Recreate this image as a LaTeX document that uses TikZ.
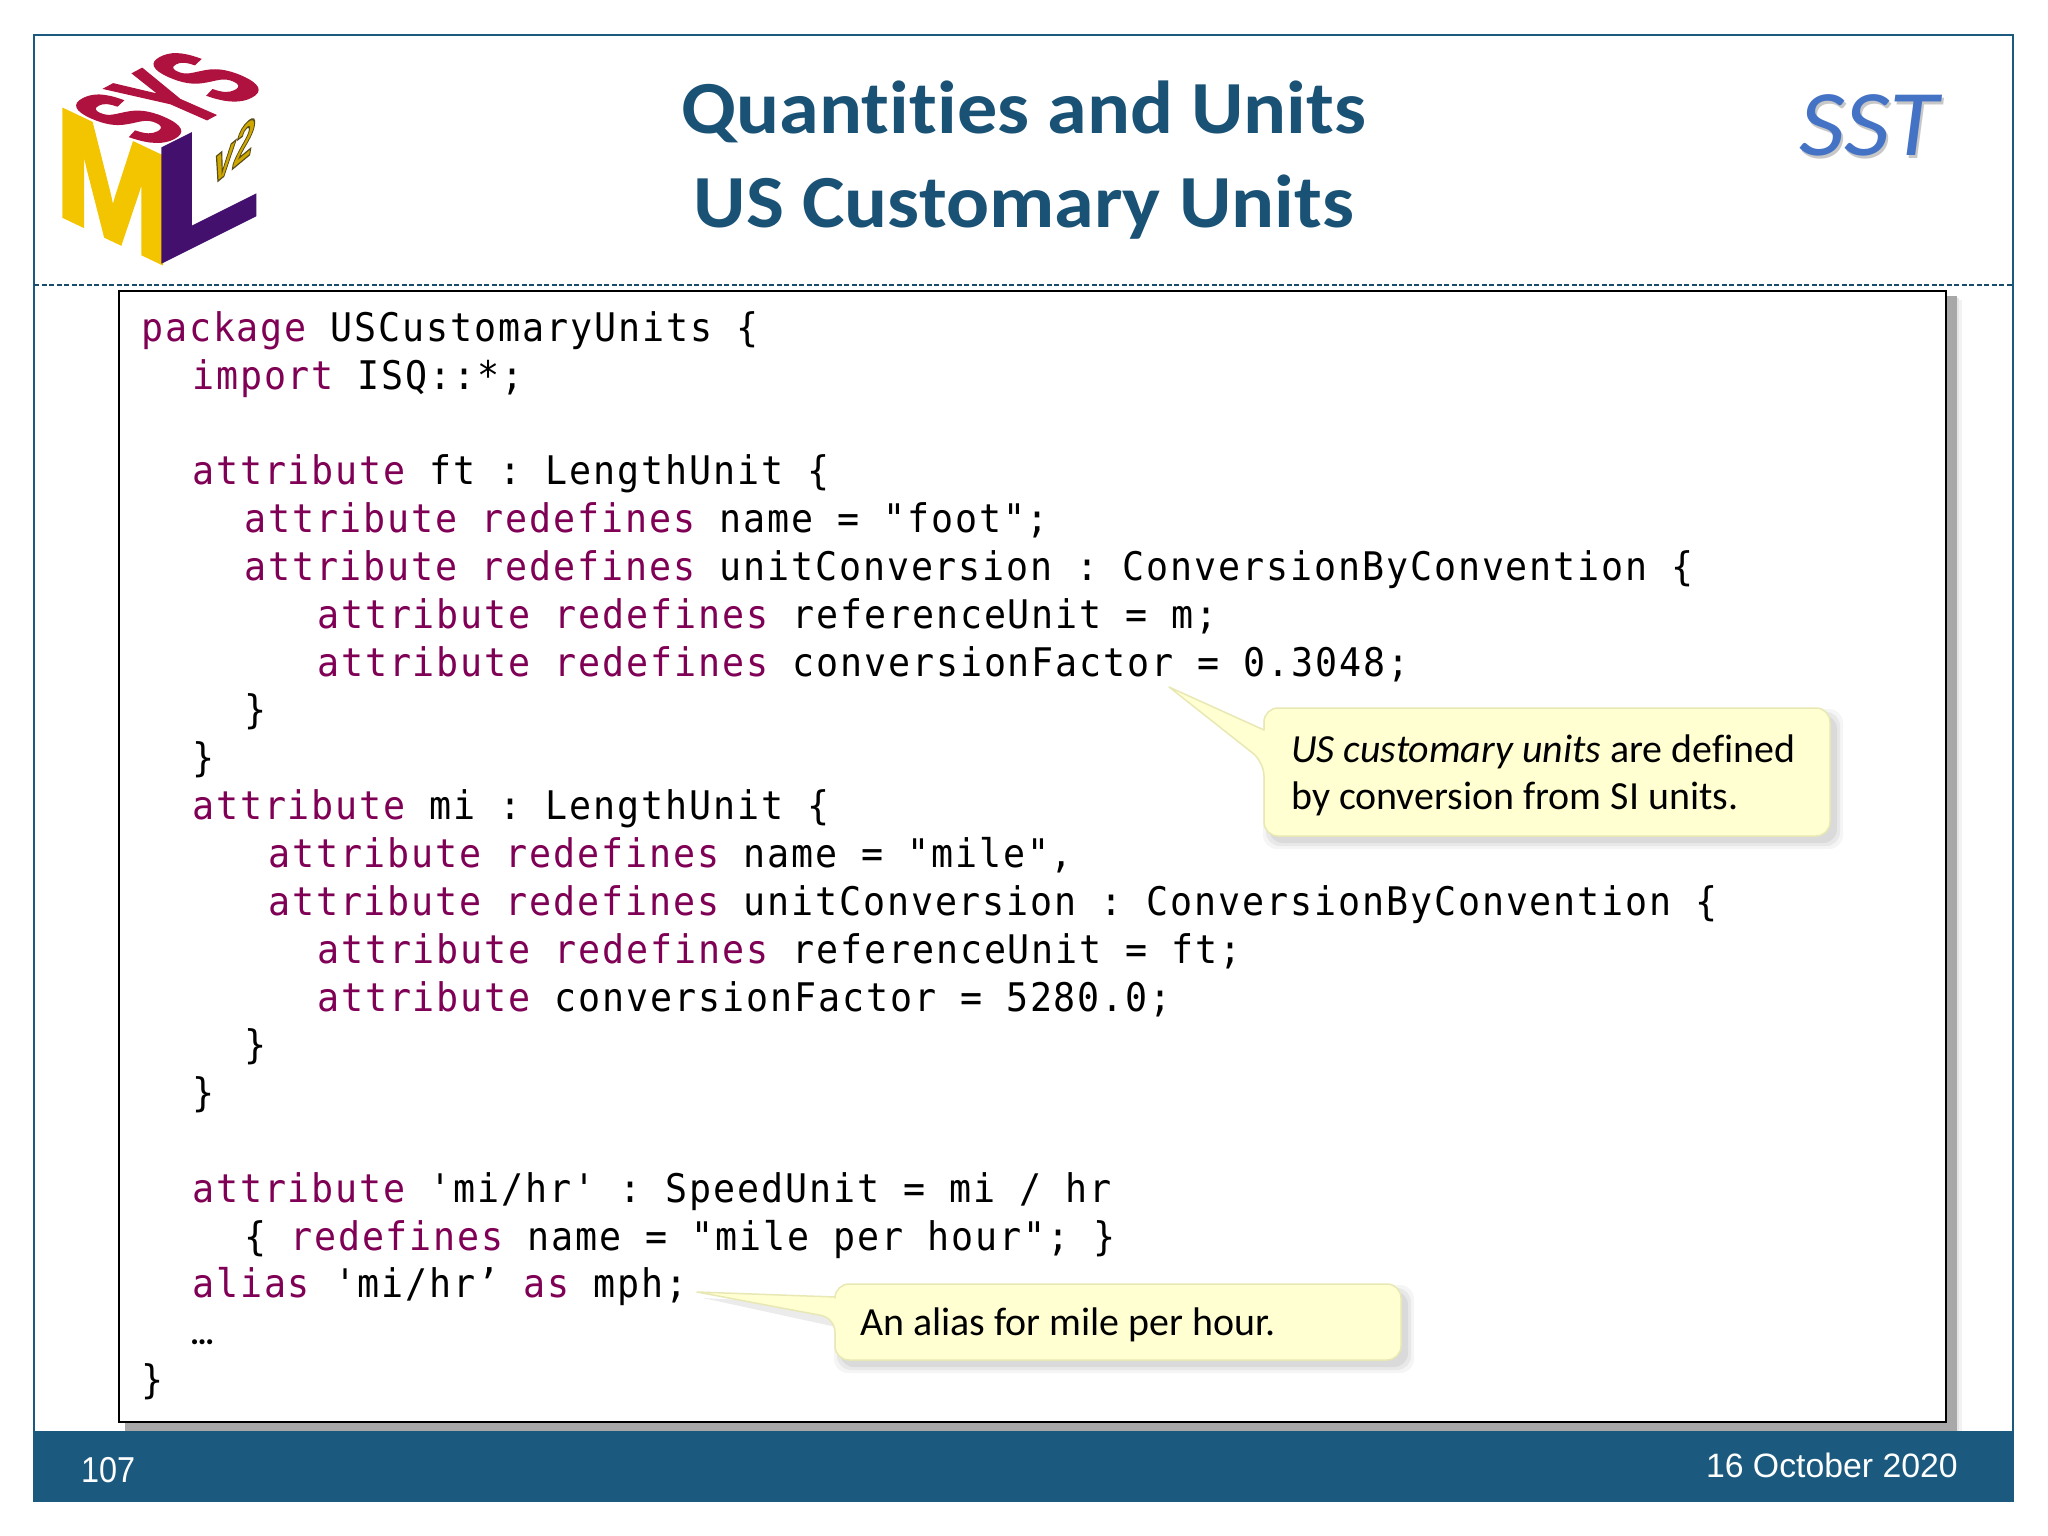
\documentclass[tikz,border=0pt]{standalone}
\usepackage{fontspec}
\usetikzlibrary{calc}
\setmainfont[Ligatures=NoCommon]{Carlito}
\newfontfamily\codefont[FakeStretch=0.93,LetterSpace=4.8]{DejaVu Sans Mono}
\newfontfamily\arialfont{Liberation Sans}
\newfontfamily\pgfont[FakeStretch=0.9]{Liberation Sans}
\newfontfamily\titlefont[FakeStretch=1.07,Ligatures=NoCommon]{Carlito}
\newfontfamily\logofont[FakeBold=3]{Liberation Sans}
\definecolor{navy}{HTML}{1B5A7E}
\definecolor{titleblue}{HTML}{1A5276}
\definecolor{sstblue}{HTML}{4472C4}
\definecolor{kwcol}{HTML}{7F0055}
\definecolor{notefill}{HTML}{FFFFD2}
\definecolor{noteline}{HTML}{E8E8B4}
\definecolor{logored}{HTML}{B0123F}
\definecolor{logoyellow}{HTML}{F2C500}
\definecolor{logopurple}{HTML}{43106E}
\newcommand{\kw}[1]{\textcolor{kwcol}{#1}}
\tikzset{
  x=1pt,y=-1pt,
  codeline/.style={anchor=base west,inner sep=0pt,font=\frenchspacing\codefont\fontsize{39.4}{47}\selectfont,text=black},
  notetext/.style={anchor=base west,inner sep=0pt,font=\fontsize{39.9}{47}\selectfont,text=black},
  titleline/.style={anchor=base,inner sep=0pt,font=\titlefont\bfseries\fontsize{75}{80}\selectfont,text=titleblue},
  foot/.style={inner sep=0pt,font=\arialfont\fontsize{33.8}{40}\selectfont,text=white},
  notebody/.style={fill=notefill,draw=noteline,line width=1.5pt,rounded corners=14pt,line join=round},
  logotext/.style={anchor=base west,inner sep=0pt,transform shape,font=\logofont\bfseries\fontsize{100}{100}\selectfont},
}
\begin{document}
\begin{tikzpicture}
\useasboundingbox (0,0) rectangle (2048,1536);
\fill[white] (0,0) rectangle (2048,1536);
% frame
\draw[navy,line width=2pt] (34,1502) -- (34,35) -- (2013,35) -- (2013,1502);
\draw[navy!85!black,line width=1.6pt,dash pattern=on 5pt off 2.5pt] (34,285) -- (2013,285);
% logo
\begin{scope}[shift={(55,212)},cm={1.38,-.655,0,1.536,(0,0)}]
\node[logotext,text=logoyellow] (logoM) at (0,0) {M};
\end{scope}
\begin{scope}[shift={(152,148)},cm={.58,.31,-1.25,.55,(0,0)}]
\node[logotext,text=logored] (logoS) at (0,0) {SYS};
\end{scope}
\begin{scope}[shift={(152,266)},cm={1.75,.875,0,1.62,(0,0)}]
\node[logotext,text=logopurple] (logoL) at (0,0) {L};
\end{scope}
\begin{scope}[shift={(211,187)},cm={.36,.30,.10,.58,(0,0)}]
\node[logotext,text=logoyellow!85!black] (logoV) at (0,0) {\special{pdf:code 2 Tr 1.2 w 0.35 0.3 0.1 RG}v2\special{pdf:code 0 Tr}};
\end{scope}
% titles
\node[titleline] (t1) at (1024,134) {Quantities and Units};
\node[titleline] (t2) at (1024,227) {US Customary Units};
\node[anchor=base,inner sep=0pt,font=\titlefont\itshape\fontsize{94}{100}\selectfont,text=black!22] at (1871,158) {SST};
\node[anchor=base,inner sep=0pt,font=\titlefont\itshape\fontsize{94}{100}\selectfont,text=sstblue] (sst) at (1869,156) {SST};
% code box
\fill[black!5] (130,300) rectangle (1962,1431);
\fill[black!10] (128,298) rectangle (1959,1431);
\fill[black!34] (125,296) rectangle (1957,1431);
\draw[black,fill=white,line width=2pt] (119,291) rectangle (1946,1422);
\fill[navy] (34,1431) rectangle (2013,1502);
% code
\begin{scope}[yshift=1pt]
\node[codeline] (l0) at (141,342) {\kw{package} USCustomaryUnits \{};
\node[codeline] (l1) at (192,390) {\kw{import} ISQ::*;};
\node[codeline] (l3) at (192,485) {\kw{attribute} ft : LengthUnit \{};
\node[codeline] (l4) at (244,533) {\kw{attribute redefines} name = "foot";};
\node[codeline] (l5) at (244,581) {\kw{attribute redefines} unitConversion : ConversionByConvention \{};
\node[codeline] (l6) at (317,629) {\kw{attribute redefines} referenceUnit = m;};
\node[codeline] (l7) at (317,677) {\kw{attribute redefines} conversionFactor = 0.3048;};
\node[codeline] (l8) at (244,724) {\}};
\node[codeline] (l9) at (192,772) {\}};
\node[codeline] (l10) at (192,820) {\kw{attribute} mi : LengthUnit \{};
\node[codeline] (l11) at (268,868) {\kw{attribute redefines} name = "mile",};
\node[codeline] (l12) at (268,916) {\kw{attribute redefines} unitConversion : ConversionByConvention \{};
\node[codeline] (l13) at (317,964) {\kw{attribute redefines} referenceUnit = ft;};
\node[codeline] (l14) at (317,1012) {\kw{attribute} conversionFactor = 5280.0;};
\node[codeline] (l15) at (244,1059) {\}};
\node[codeline] (l16) at (192,1107) {\}};
\node[codeline] (l18) at (192,1203) {\kw{attribute} 'mi/hr' : SpeedUnit = mi / hr};
\node[codeline] (l19) at (244,1251) {\{ \kw{redefines} name = "mile per hour"; \}};
\node[codeline] (l20) at (192,1298) {\kw{alias} 'mi/hr’ \kw{as} mph;};
\node[codeline,font=\bfseries\fontsize{34}{40}\selectfont] (l21) at (190,1345) {…};
\node[codeline] (l22) at (141,1394) {\}};
\end{scope}
% callout 1
\foreach \d/\o in {7/.04,4/.05,1/.06}{
  \fill[black,opacity=\o,rounded corners=14pt] (1270-\d,716-\d) rectangle (1836+\d,842+\d);
}
\draw[notebody] (1500,708) -- (1830,708) -- (1830,836) -- (1264,836) -- (1264,762) [sharp corners] -- (1169,687) -- (1264,730) [rounded corners=14pt] -- (1264,708) -- cycle;
\node[notetext] (n1a) at (1291,762) {\textit{US customary units} are defined};
\node[notetext] (n1b) at (1291,809) {by conversion from SI units.};
% callout 2
\foreach \d/\o in {7/.04,4/.05,1/.06}{
  \fill[black,opacity=\o,rounded corners=14pt] (841-\d,1292-\d) rectangle (1407+\d,1366+\d);
}
\fill[black,opacity=.08] (841,1328) -- (703,1298) -- (841,1305) -- cycle;
\draw[notebody] (1100,1284) -- (1401,1284) -- (1401,1360) -- (835,1360) -- (835,1318) [sharp corners] -- (697,1292) -- (835,1297) [rounded corners=14pt] -- (835,1284) -- cycle;
\node[notetext] (n2) at (860,1335) {An alias for mile per hour.};
% footer
\node[inner sep=0pt,font=\pgfont\fontsize{36}{40}\selectfont,text=white,anchor=base west] (pg) at (81,1482) {107};
\node[foot,anchor=base east] (dt) at (1958,1477) {16 October 2020};
\end{tikzpicture}
\end{document}
